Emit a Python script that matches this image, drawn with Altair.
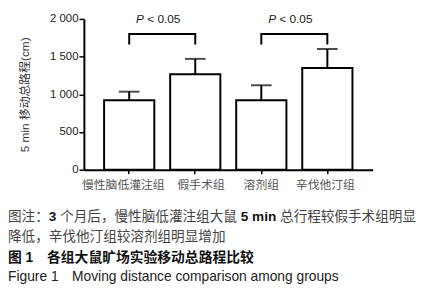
import altair as alt
import pandas as pd

# ---- data ----
categories = ["慢性脑低灌注组", "假手术组", "溶剂组", "辛伐他汀组"]
means = [920, 1265, 920, 1350]
errors = [115, 205, 200, 250]
y_ticks = [0, 500, 1000, 1500, 2000]
bracket_pairs = [("慢性脑低灌注组", "假手术组"), ("溶剂组", "辛伐他汀组")]
bracket_top = 1800
bracket_leg = 1660
p_label = ["P", "< 0.05"]
y_title = "5 min 移动总路程(cm)"
caption_1 = ["图注：", "3", "个月后，慢性脑低灌注组大鼠", "5 min", "总行程较假手术组明显"]
caption_2 = "降低，辛伐他汀组较溶剂组明显增加"
caption_3 = "图 1\u3000各组大鼠旷场实验移动总路程比较"
caption_4 = ["Figure 1", "Moving distance comparison among groups"]

df = pd.DataFrame({"group": categories, "mean": means, "err": errors})
df["upper"] = df["mean"] + df["err"]

rows = []
for i, (a, b) in enumerate(bracket_pairs):
    for k, (g, v) in enumerate([(a, bracket_leg), (a, bracket_top), (b, bracket_top), (b, bracket_leg)]):
        rows.append({"pair": i, "order": k, "group": g, "mean": v})
br = pd.DataFrame(rows)
ptext = pd.DataFrame({"group": [p[0] for p in bracket_pairs], "mean": [2000, 2000]})

FONT_MIX = "Liberation Sans, Noto Sans CJK SC"
W, H = 293, 153

xscale = alt.Scale(domain=categories, paddingInner=0.24, paddingOuter=0.306)
yscale = alt.Scale(domain=[0, 2000], nice=False)

label_shift = {
    "condition": [
        {"test": f"datum.value === '{categories[0]}'", "value": -6},
        {"test": f"datum.value === '{categories[1]}'", "value": 6},
        {"test": f"datum.value === '{categories[3]}'", "value": -2},
    ],
    "value": 0,
}

x_axis = alt.Axis(title=None, labelAngle=0, labelFont="Noto Sans CJK SC",
                  labelFontSize=12, labelColor="#555", labelPadding=6,
                  labelOverlap=False, labelOffset=label_shift,
                  tickSize=4, tickWidth=1.5, tickColor="black",
                  domainColor="black", domainWidth=2)
y_axis = alt.Axis(title=y_title, values=y_ticks, tickCount=5, grid=False, labelOverlap=False,
                  labelExpr="replace(format(datum.value, ','), ',', ' ')",
                  labelFont="Liberation Sans", labelFontSize=11.5, labelColor="#222",
                  labelPadding=1, tickSize=5, tickWidth=1.5, tickColor="black",
                  domainColor="black", domainWidth=2,
                  titleFont=FONT_MIX, titleFontSize=12, titleFontWeight="normal",
                  titleColor="#333", titlePadding=18)


def X():
    return alt.X("group:N", sort=categories, scale=xscale, axis=x_axis)


def Y(field="mean"):
    return alt.Y(f"{field}:Q", scale=yscale, axis=y_axis)


base = alt.Chart(df)
bars = base.mark_bar(fill="white", stroke="black", strokeWidth=2).encode(x=X(), y=Y())
stems = base.mark_rule(color="black", strokeWidth=2).encode(x=X(), y=Y(), y2="upper:Q")
caps = base.mark_tick(color="black", thickness=2, size=21).encode(x=X(), y=Y("upper"))

brackets = alt.Chart(br).mark_line(color="black", strokeWidth=2, strokeJoin="miter").encode(
    x=X(), y=Y(), detail="pair:N", order="order:Q")

p_italic = alt.Chart(ptext).mark_text(text=p_label[0], font="Liberation Sans", fontSize=12,
                                      fontStyle="italic", align="left", baseline="middle",
                                      dx=7, color="#222").encode(x=X(), y=Y())
p_rest = alt.Chart(ptext).mark_text(text=p_label[1], font="Liberation Sans", fontSize=12,
                                    align="left", baseline="middle", dx=18.3, color="#222").encode(
    x=X(), y=Y())

one = alt.Data(values=[{"a": 1}])


def cap_text(txt, x, y, size, weight="normal", color="#444"):
    return alt.Chart(one).mark_text(text=txt, font=FONT_MIX, fontSize=size, fontWeight=weight,
                                    align="left", baseline="middle", color=color).encode(
        x=alt.value(x), y=alt.value(y))


x0 = -77
s = 13.8
layers = [bars, stems, caps, brackets, p_italic, p_rest]
layers += [
    cap_text(caption_1[0], x0, 201, s),
    cap_text(caption_1[1], x0 + 3 * s, 201, s, "bold", "#111"),
    cap_text(caption_1[2], x0 + 3.834 * s, 201, s),
    cap_text(caption_1[3], x0 + 17.112 * s, 201, s, "bold", "#111"),
    cap_text(caption_1[4], x0 + 20.002 * s, 201, s),
    cap_text(caption_2, x0, 221, s),
    cap_text(caption_3, x0, 243, 14, "bold", "#111"),
    cap_text(caption_4[0], x0, 262, 14, "normal", "#222"),
    cap_text(caption_4[1], x0 + 65, 262, 14, "normal", "#222"),
]

chart = alt.layer(*layers).properties(
    width=W, height=H,
    autosize=alt.AutoSizeParams(type="none"),
    padding={"left": 77, "top": 9, "right": 46, "bottom": 122},
).configure_view(stroke=None)

chart.save("out.html", embed_options={"renderer": "svg", "actions": False})
